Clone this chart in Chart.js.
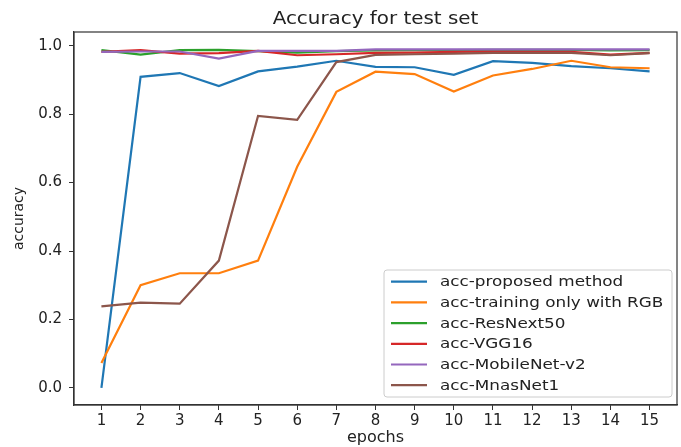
<!DOCTYPE html>
<html>
<head>
<meta charset="utf-8">
<script src="https://cdn.jsdelivr.net/npm/chart.js@4/dist/chart.umd.min.js"></script>
<style>
  body { margin: 0; background: #fff; }
  canvas { display: block; }
</style>
</head>
<body>
<canvas id="accChart" width="681" height="447"></canvas>
<script>
// values
var epochs = [1, 2, 3, 4, 5, 6, 7, 8, 9, 10, 11, 12, 13, 14, 15];
var yTicks = [0.0, 0.2, 0.4, 0.6, 0.8, 1.0];

var proposed  = [0.000, 0.909, 0.920, 0.882, 0.925, 0.939, 0.956, 0.938, 0.937, 0.915, 0.955, 0.950, 0.940, 0.934, 0.925];
var rgbOnly   = [0.073, 0.300, 0.335, 0.335, 0.372, 0.646, 0.865, 0.924, 0.917, 0.866, 0.913, 0.932, 0.956, 0.937, 0.934];
var resNext   = [0.987, 0.974, 0.987, 0.988, 0.984, 0.980, 0.984, 0.986, 0.987, 0.987, 0.988, 0.988, 0.988, 0.986, 0.987];
var vgg16     = [0.982, 0.987, 0.977, 0.978, 0.985, 0.972, 0.975, 0.979, 0.980, 0.982, 0.983, 0.982, 0.982, 0.974, 0.979];
var mobileNet = [0.982, 0.983, 0.983, 0.962, 0.985, 0.985, 0.985, 0.989, 0.989, 0.989, 0.989, 0.989, 0.989, 0.989, 0.989];
var mnasNet   = [0.238, 0.249, 0.246, 0.372, 0.795, 0.783, 0.952, 0.973, 0.975, 0.977, 0.979, 0.979, 0.979, 0.972, 0.978];

var seriesNames = ["acc-proposed method", "acc-training only with RGB", "acc-ResNext50",
                   "acc-VGG16", "acc-MobileNet-v2", "acc-MnasNet1"];
var seriesData = [proposed, rgbOnly, resNext, vgg16, mobileNet, mnasNet];
var colors = ['#1f77b4', '#ff7f0e', '#2ca02c', '#d62728', '#9467bd', '#8c564b'];

var FONT = "'DejaVu Sans', sans-serif";
var TXT = '#222';

function toPoints(vals) {
  return epochs.map(function (e, i) { return { x: e, y: vals[i] }; });
}

var datasets = seriesData.map(function (vals, i) {
  return {
    label: seriesNames[i],
    data: toPoints(vals),
    borderColor: colors[i],
    backgroundColor: colors[i],
    borderWidth: 2.2,
    pointRadius: 0,
    tension: 0,
    order: -i   // later series on top, like matplotlib
  };
});

// the reference's horizontal text is a bit wide, so stretch it
function wideText(c, txt, x, y, k) {
  c.save();
  c.translate(x, y);
  c.scale(k, 1);
  c.fillText(txt, 0, 0);
  c.restore();
}

// frame on all four sides + title centred over the axes
var framePlugin = {
  id: 'frame',
  afterDatasetsDraw: function (chart) {
    var a = chart.chartArea, c = chart.ctx;
    c.save();
    c.strokeStyle = '#333';
    c.lineWidth = 1.2;
    c.strokeRect(a.left, a.top, a.right - a.left, a.bottom - a.top);
    c.font = '17px ' + FONT;
    c.fillStyle = TXT;
    c.textAlign = 'center';
    c.textBaseline = 'alphabetic';
    wideText(c, 'Accuracy for test set', (a.left + a.right) / 2, a.top - 8, 1.17);
    c.restore();
  }
};

// matplotlib-like legend box in the lower right of the axes
var boxLegend = {
  id: 'boxLegend',
  afterDraw: function (chart) {
    var a = chart.chartArea, c = chart.ctx;
    var w = 288, h = 127;
    var x = a.right - 5 - w, y = a.bottom - 8 - h;
    c.save();
    c.beginPath();
    c.roundRect(x, y, w, h, 3);
    c.fillStyle = 'rgba(255,255,255,0.85)';
    c.fill();
    c.strokeStyle = '#ccc';
    c.lineWidth = 1;
    c.stroke();
    c.font = '14px ' + FONT;
    c.textBaseline = 'middle';
    c.textAlign = 'left';
    c.fillStyle = TXT;
    chart.data.datasets.forEach(function (ds, i) {
      var ly = y + 11.7 + i * 20.7;
      c.beginPath();
      c.moveTo(x + 7, ly);
      c.lineTo(x + 43, ly);
      c.strokeStyle = ds.borderColor;
      c.lineWidth = 2.2;
      c.stroke();
      wideText(c, ds.label, x + 56, ly + 1, 1.2);
    });
    c.restore();
  }
};

new Chart(document.getElementById('accChart'), {
  type: 'line',
  data: { datasets: datasets },
  options: {
    responsive: false,
    animation: false,
    devicePixelRatio: 1,
    layout: { padding: { top: 32, left: 0, right: 4, bottom: 0 } },
    plugins: {
      legend: { display: false },
      tooltip: { enabled: false },
      title: { display: false }
    },
    scales: {
      x: {
        type: 'linear',
        min: 0.3,
        max: 15.7,
        afterFit: function (s) { s.height = 42; },
        afterBuildTicks: function (s) { s.ticks = epochs.map(function (v) { return { value: v }; }); },
        grid: { display: true, drawOnChartArea: false, drawTicks: true, tickLength: 5, color: '#333' },
        border: { display: true, color: '#333', width: 1.2 },
        ticks: {
          color: TXT, font: { family: FONT, size: 15 }, padding: 2,
          maxRotation: 0, autoSkip: false,
          callback: function (v) { return String(v); }
        },
        title: { display: true, text: 'epochs', color: TXT, font: { family: FONT, size: 16 }, padding: { top: 0, bottom: 0 } }
      },
      y: {
        type: 'linear',
        min: -0.05,
        max: 1.04,
        afterFit: function (s) { s.width = 74; },
        afterBuildTicks: function (s) { s.ticks = yTicks.map(function (v) { return { value: v }; }); },
        grid: { display: true, drawOnChartArea: false, drawTicks: true, tickLength: 5, color: '#333' },
        border: { display: true, color: '#333', width: 1.2 },
        ticks: {
          color: TXT, font: { family: FONT, size: 15 }, padding: 7,
          callback: function (v) { return v.toFixed(1); }
        },
        title: { display: true, text: 'accuracy', color: TXT, font: { family: FONT, size: 14 }, padding: { top: 11, bottom: 0 } }
      }
    }
  },
  plugins: [framePlugin, boxLegend]
});
</script>
</body>
</html>
